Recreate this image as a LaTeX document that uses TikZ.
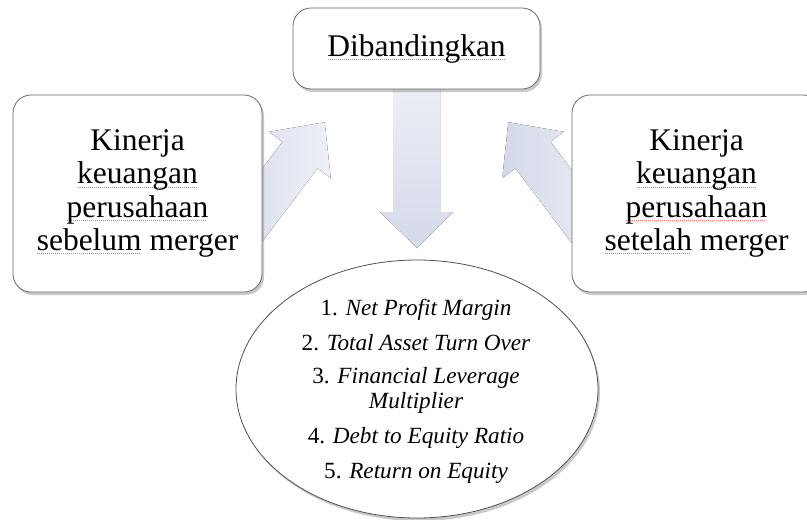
\documentclass[tikz,border=0pt]{standalone}
\usepackage{fontspec}
\setmainfont{Liberation Serif}
\usetikzlibrary{shapes.geometric,shadows}
\definecolor{arrowdark}{RGB}{212,217,234}
\definecolor{arrowlight}{RGB}{238,240,247}
\definecolor{boxline}{RGB}{105,105,105}
\definecolor{ellline}{RGB}{80,80,80}
\definecolor{splc}{RGB}{232,120,120}
\newsavebox\splbox
\newcommand\spl[1]{\sbox\splbox{#1}\leavevmode\rlap{\color{splc}\leaders\hbox to 2pt{\hss\rule[-3.5pt]{1.3pt}{0.6pt}\hss}\hskip\wd\splbox}\usebox\splbox}
\begin{document}
\begin{tikzpicture}[x=1pt,y=-1pt,
  boxstyle/.style={draw=boxline, line width=0.8pt, fill=white, rounded corners=18pt,
    drop shadow={shadow xshift=2pt, shadow yshift=-3pt, opacity=0.35, fill=black!60},
    font=\fontsize{31.5}{33.3}\selectfont, align=center, inner sep=0pt},
  listtext/.style={font=\fontsize{23.2}{25}\selectfont, anchor=base, inner sep=0pt},
  arrowfill/.style={left color=arrowdark, right color=arrowlight}]
\fill[white] (0,0) rectangle (807,520);
\useasboundingbox (0,0) rectangle (807,520);
% arrows (behind the boxes)
\fill[top color=arrowlight, bottom color=arrowdark]
  (393,80) -- (440,80) -- (440,212) -- (453,212) -- (417,248) -- (380,212) -- (393,212) -- cycle;
\begin{scope}[shift={(300,155)}, rotate=53]
  \fill[arrowfill] (-120,-22) -- (0,-22) -- (0,-38.5) -- (41,0) -- (0,38.5) -- (0,22) -- (-120,22) -- cycle;
\end{scope}
\begin{scope}[shift={(533,155)}, rotate=127]
  \fill[arrowfill] (-120,-22) -- (0,-22) -- (0,-38.5) -- (41,0) -- (0,38.5) -- (0,22) -- (-120,22) -- cycle;
\end{scope}
% boxes
\node[boxstyle, minimum width=247pt, minimum height=81pt] (top) at (416.5,48.5) {\spl{Dibandingkan}};
\node[boxstyle, minimum width=249pt, minimum height=197pt] (left) at (137.5,193.5)
  {Kinerja\\\spl{keuangan}\\\spl{perusahaan}\\\spl{sebelum} merger};
\node[boxstyle, minimum width=249pt, minimum height=197pt] (right) at (696.5,193.5)
  {Kinerja\\\spl{keuangan}\\\spl{perusahaan}\\\spl{setelah} merger};
% ellipse
\node[ellipse, draw=ellline, line width=0.8pt, fill=white, minimum width=362pt, minimum height=258pt, inner sep=0pt,
  drop shadow={shadow xshift=2pt, shadow yshift=-3pt, opacity=0.35, fill=black!60}] (ell) at (417,389) {};
\node[listtext] (l1) at (416,315) {1. \textit{Net Profit Margin}};
\node[listtext] (l2) at (416,350) {2. \textit{Total Asset Turn Over}};
\node[listtext] (l3) at (416,383) {3. \textit{Financial Leverage}};
\node[listtext] (l3b) at (416,408) {\textit{Multiplier}};
\node[listtext] (l4) at (416,443) {4. \textit{Debt to Equity Ratio}};
\node[listtext] (l5) at (416,478) {5. \textit{Return on Equity}};
\end{tikzpicture}
\end{document}
